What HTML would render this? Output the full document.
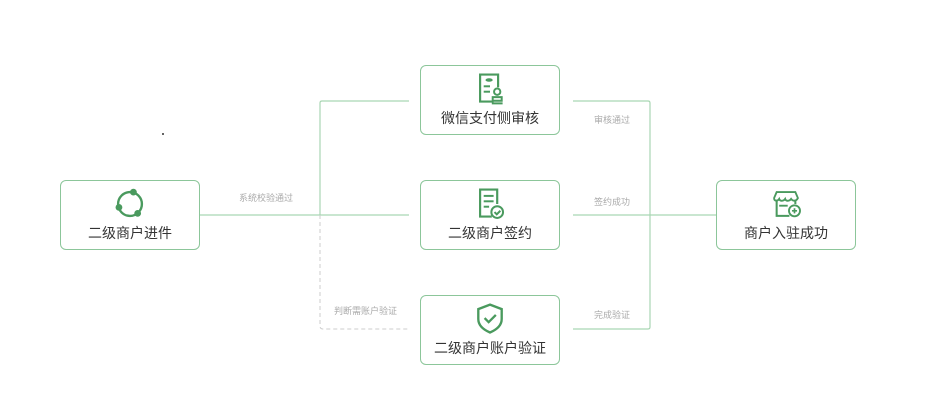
<!DOCTYPE html>
<html><head><meta charset="utf-8"><style>
body{margin:0;width:941px;height:406px;background:#fff;overflow:hidden;position:relative;font-family:"Liberation Sans","Noto Sans CJK SC",sans-serif}
.box{position:absolute;width:140px;height:70px;border:1.3px solid #8cc69a;border-radius:6px;box-sizing:border-box;background:#fff}
.box .t{position:absolute;left:0;right:0;top:44px;line-height:16px;text-align:center;font-size:14px;color:#333}
.box svg{position:absolute;left:50%;margin-left:-17px;top:5px}
.lb{position:absolute;font-size:9px;color:#aaa;line-height:11px}
</style></head><body>
<svg width="941" height="406" style="position:absolute;left:0;top:0">
<g stroke="#a9d6b3" stroke-width="1.2" fill="none">
<line x1="200" y1="215" x2="409" y2="215"/>
<path d="M409 101 H322 Q320 101 320 103 V215"/>
<path d="M573 101 H648 Q650 101 650 103 V327 Q650 329 648 329 H573"/>
<line x1="573" y1="215" x2="716" y2="215"/>
</g>
<path d="M320 215 V326 Q320 329 323 329 H409" stroke="#ccc" stroke-width="1" stroke-dasharray="4,3" fill="none"/>
<circle cx="163" cy="134" r="1" fill="#333"/>
</svg>
<div class="box" style="left:60px;top:180px"><svg width="34" height="36" viewBox="0 0 40 40"><circle cx="20" cy="20" r="14" stroke="#4a9a5e" stroke-width="2.8" fill="none"/><circle cx="24" cy="6" r="4" fill="#4a9a5e"/><circle cx="7" cy="24" r="4" fill="#4a9a5e"/><circle cx="29" cy="31" r="4" fill="#4a9a5e"/></svg><div class="t">二级商户进件</div></div>
<div class="box" style="left:420px;top:65px"><svg width="34" height="36" viewBox="0 0 36 40"><path d="M22 34H7V4H27V18" stroke="#4a9a5e" stroke-width="2.4" fill="none"/><ellipse cx="17" cy="10" rx="4" ry="2" fill="#4a9a5e"/><line x1="11" y1="17" x2="18" y2="17" stroke="#4a9a5e" stroke-width="2.2"/><line x1="11" y1="23" x2="18" y2="23" stroke="#4a9a5e" stroke-width="2.2"/><circle cx="26" cy="23" r="3.5" stroke="#4a9a5e" stroke-width="2.2" fill="none"/><path d="M21 33V29H31V33ZM20 36H32" stroke="#4a9a5e" stroke-width="2.2" fill="none"/></svg><div class="t">微信支付侧审核</div></div>
<div class="box" style="left:420px;top:180px"><svg width="34" height="36" viewBox="0 0 36 40"><path d="M20 34H7V4H26V20" stroke="#4a9a5e" stroke-width="2.4" fill="none"/><line x1="11" y1="11" x2="22" y2="11" stroke="#4a9a5e" stroke-width="2.2"/><line x1="11" y1="17" x2="22" y2="17" stroke="#4a9a5e" stroke-width="2.2"/><line x1="11" y1="23" x2="17" y2="23" stroke="#4a9a5e" stroke-width="2.2"/><circle cx="26" cy="29" r="6.5" stroke="#4a9a5e" stroke-width="2.2" fill="#fff"/><path d="M23 29l2.5 2.5 4-4" stroke="#4a9a5e" stroke-width="2.2" fill="none"/></svg><div class="t">二级商户签约</div></div>
<div class="box" style="left:420px;top:295px"><svg width="34" height="36" viewBox="0 0 36 40"><path d="M18 4L31 9V20C31 27 25 32 18 35C11 32 5 27 5 20V9Z" stroke="#4a9a5e" stroke-width="2.6" fill="none"/><path d="M12 19l4.5 4.5 8-8" stroke="#4a9a5e" stroke-width="2.6" fill="none"/></svg><div class="t">二级商户账户验证</div></div>
<div class="box" style="left:716px;top:180px"><svg width="34" height="36" viewBox="0 0 40 40"><path d="M9 15V34H24M31 20V15" stroke="#4a9a5e" stroke-width="2.4" fill="none"/><path d="M9 6H31L34 13C32 17 28 17 26 14C24 17 20 17 19 14C17 17 13 17 12 14C10 17 6 17 6 13Z" stroke="#4a9a5e" stroke-width="2.2" fill="none"/><line x1="12" y1="22" x2="22" y2="22" stroke="#4a9a5e" stroke-width="2.2"/><circle cx="30" cy="28" r="6.5" stroke="#4a9a5e" stroke-width="2.2" fill="#fff"/><path d="M30 25v6M27 28h6" stroke="#4a9a5e" stroke-width="2"/></svg><div class="t">商户入驻成功</div></div>
<div class="lb" style="left:239px;top:193px">系统校验通过</div>
<div class="lb" style="left:594px;top:115px">审核通过</div>
<div class="lb" style="left:594px;top:197px">签约成功</div>
<div class="lb" style="left:594px;top:310px">完成验证</div>
<div class="lb" style="left:334px;top:306px">判断需账户验证</div>
</body></html>
